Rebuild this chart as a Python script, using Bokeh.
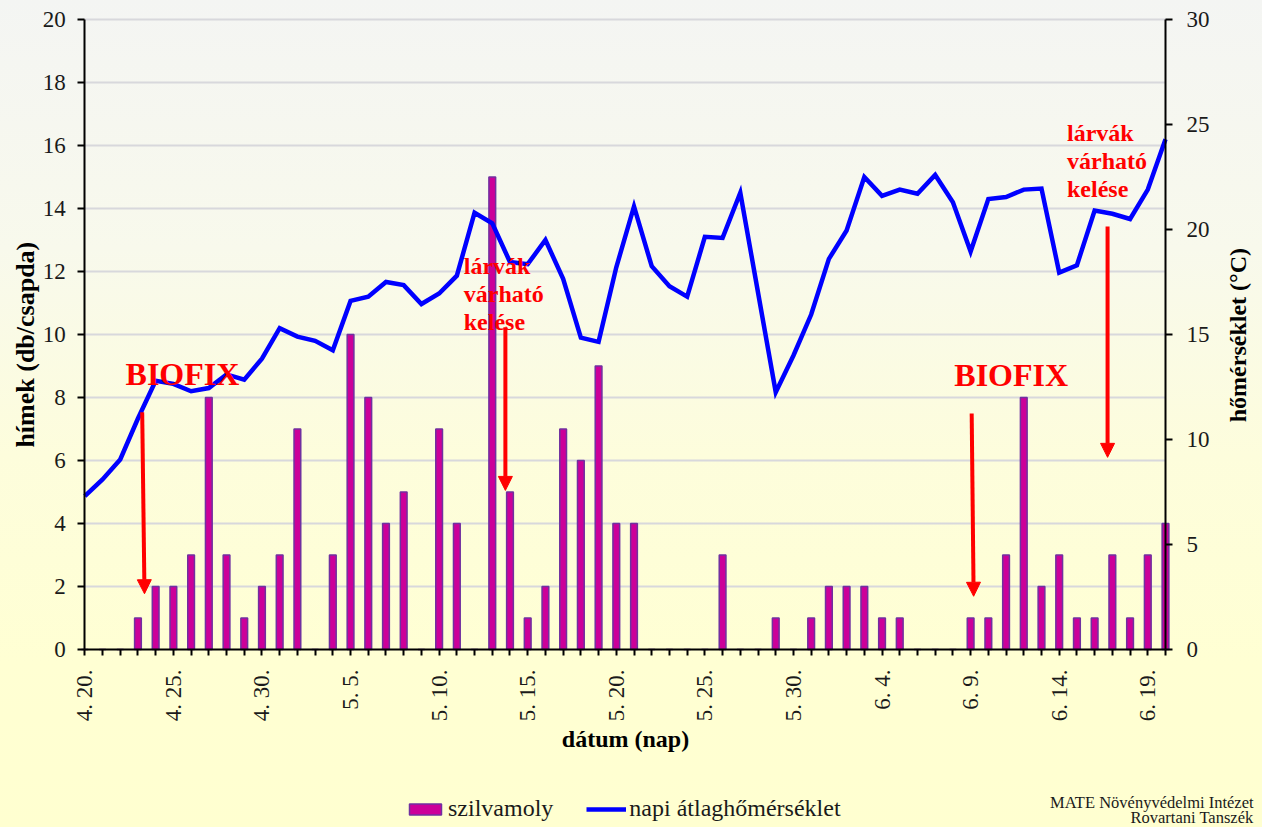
import math
import pandas as pd
from bokeh.plotting import figure
from bokeh.models import (Range1d, LinearAxis, FixedTicker, Legend, LegendItem,
                          Label, Arrow, NormalHead, ColumnDataSource, Grid)
from bokeh.embed import file_html
from bokeh.resources import INLINE

# ---------------- data ----------------
start_date = "2021-04-20"
end_date = "2021-06-20"
dates = pd.date_range(start_date, end_date, freq="D")

# males per trap (szilvamoly), one value per day 4.20 .. 6.20
counts = [0, 0, 0, 1, 2, 2, 3, 8, 3, 1,
          2, 3, 7, 0, 3, 10, 8, 4, 5, 0,
          7, 4, 0, 15, 5, 1, 2, 7, 6, 9,
          4, 4, 0, 0, 0, 0, 3, 0, 0, 1,
          0, 1, 2, 2, 2, 1, 1, 0, 0, 0,
          1, 1, 3, 8, 2, 3, 1, 1, 3, 1,
          3, 4]

# daily mean temperature (°C)
temps = [7.3, 8.1, 9.05, 11.0, 12.8, 12.65, 12.3, 12.45, 13.1, 12.85,
         13.85, 15.3, 14.9, 14.7, 14.25, 16.6, 16.8, 17.5, 17.35, 16.45,
         16.95, 17.8, 20.8, 20.3, 18.45, 18.35, 19.5, 17.65, 14.85, 14.65,
         18.2, 21.1, 18.25, 17.3, 16.8, 19.65, 19.6, 21.75, 17.0, 12.25,
         14.0, 15.95, 18.6, 19.95, 22.5, 21.6, 21.9, 21.7, 22.6, 21.3,
         18.95, 21.45, 21.55, 21.9, 21.95, 17.95, 18.3, 20.9, 20.75, 20.5,
         21.9, 24.3]

series_names = ["szilvamoly", "napi átlaghőmérséklet"]
axis_titles = ["dátum (nap)", "hímek  (db/csapda)", "hőmérséklet (°C)"]
count_max, temp_max = 20, 30
label_step = 5

day_index = list(range(len(dates)))
date_labels = [f"{d.month}. {d.day}." for d in dates]
last_day = day_index[-1]

src = ColumnDataSource(dict(x=day_index, count=counts, temp=temps, date=date_labels))

# ---------------- figure ----------------
# the frame fills the whole canvas; axes are pinned with fixed_location
SERIF = "Liberation Serif"
INK = "#1a1a1a"
RED = "#ff0000"

p = figure(width=1262, height=827, output_backend="svg", toolbar_location=None,
           x_range=Range1d(-4.758, 66.475), y_range=Range1d(-5.651, 20.603),
           min_border=0, min_border_left=0, min_border_right=0,
           min_border_top=0, min_border_bottom=0, outline_line_color=None)
p.background_fill_color = None
p.border_fill_color = None
p.styles = {"background": "linear-gradient(180deg, #f4f5f3 0%, #f8f9ec 30%, #fdfddc 55%, #ffffd3 80%, #ffffd0 100%)"}
p.extra_y_ranges = {"temp": Range1d(-8.476, 30.905)}

# bars
bars = p.vbar(x="x", top="count", width=0.38, source=src,
              fill_color="#cc0099", line_color="#7030a0", line_width=1.5)
# temperature line
line = p.line(x="x", y="temp", source=src, y_range_name="temp",
              line_color="#0000ff", line_width=4.5, line_join="miter")

def style_axis(ax, tick_out, standoff):
    ax.major_label_text_font = SERIF
    ax.major_label_text_font_size = "23px"
    ax.major_label_text_color = INK
    ax.major_label_standoff = standoff
    ax.major_tick_out = tick_out
    ax.major_tick_in = 0
    ax.minor_tick_out = 0
    ax.minor_tick_in = 0
    ax.axis_line_width = 2
    ax.axis_line_color = "black"
    ax.major_tick_line_width = 2

# x axis (pinned at count 0)
xa = p.xaxis[0]
xa.fixed_location = 0
xa.bounds = (0, last_day)
xa.ticker = FixedTicker(ticks=day_index)
xa.major_label_overrides = {i: (date_labels[i] if i % label_step == 0 else "") for i in day_index}
xa.major_label_orientation = math.pi / 2
style_axis(xa, 6, 14)

# left axis (pinned at first day)
ya = p.yaxis[0]
ya.fixed_location = 0
ya.bounds = (0, count_max)
ya.ticker = FixedTicker(ticks=list(range(0, count_max + 1, 2)))
style_axis(ya, 7, 12)

# right axis (pinned at last day)
ra = LinearAxis(y_range_name="temp", ticker=FixedTicker(ticks=list(range(0, temp_max + 1, 5))))
ra.fixed_location = last_day
ra.bounds = (0, temp_max)
style_axis(ra, 7, 14)
p.add_layout(ra, "right")

# grid
p.xgrid.grid_line_color = None
p.ygrid.ticker = FixedTicker(ticks=list(range(2, count_max + 1, 2)))
p.ygrid.grid_line_color = "#d8d8dc"
p.ygrid.grid_line_width = 2
if "cross_bounds" in Grid.properties():
    p.ygrid.cross_bounds = (0, last_day)

# axis titles
def axis_title(x, y, s, size, angle=0.0, baseline="middle"):
    p.add_layout(Label(x=x, y=y, text=s, angle=angle, text_font=SERIF,
                       text_font_style="bold", text_font_size=size, text_color="black",
                       text_align="center", text_baseline=baseline))

axis_title(30.52, -2.83, axis_titles[0], "24px", baseline="alphabetic")
axis_title(-3.35, 9.78, axis_titles[1], "26px", angle=math.pi / 2)
axis_title(65.12, 9.98, axis_titles[2], "24px", angle=math.pi / 2)

# legend
legend = Legend(items=[LegendItem(label=series_names[0], renderers=[bars]),
                       LegendItem(label=series_names[1], renderers=[line])],
                orientation="horizontal", location=(405, 5),
                glyph_width=40, glyph_height=14, label_standoff=3, spacing=33,
                padding=0, margin=0, border_line_color=None,
                background_fill_alpha=0,
                label_text_font=SERIF, label_text_font_size="24px",
                label_text_color=INK)
p.add_layout(legend, "center")

# annotations
def txt(x, y, s, size="24px"):
    p.add_layout(Label(x=x, y=y, text=s, text_font=SERIF, text_font_style="bold",
                       text_font_size=size, text_color=RED, text_baseline="alphabetic"))

txt(2.30, 8.76, "BIOFIX", "32px")
txt(49.08, 8.70, "BIOFIX", "32px")
for s, yy in zip(["lárvák", "várható", "kelése"], [12.18, 11.28, 10.40]):
    txt(21.39, yy, s)
for s, yy in zip(["lárvák", "várható", "kelése"], [16.39, 15.51, 14.61]):
    txt(55.44, yy, s)

def arrow(x0, y0, x1, y1):
    p.add_layout(Arrow(x_start=x0, y_start=y0, x_end=x1, y_end=y1,
                       line_color=RED, line_width=4,
                       end=NormalHead(size=14, fill_color=RED, line_color=RED, line_width=1)))

arrow(3.24, 7.53, 3.37, 1.77)
arrow(23.74, 10.23, 23.74, 5.05)
arrow(57.73, 13.43, 57.73, 6.1)
arrow(50.06, 7.49, 50.17, 1.69)

for s, yy in zip(["MATE Növényvédelmi Intézet", "Rovartani Tanszék"], [-4.86, -5.32]):
    p.add_layout(Label(x=65.97, y=yy, text=s, text_font=SERIF,
                       text_font_size="16.5px", text_color=INK, text_align="right",
                       text_baseline="middle"))

open("out.html", "w").write(file_html(p, INLINE))
